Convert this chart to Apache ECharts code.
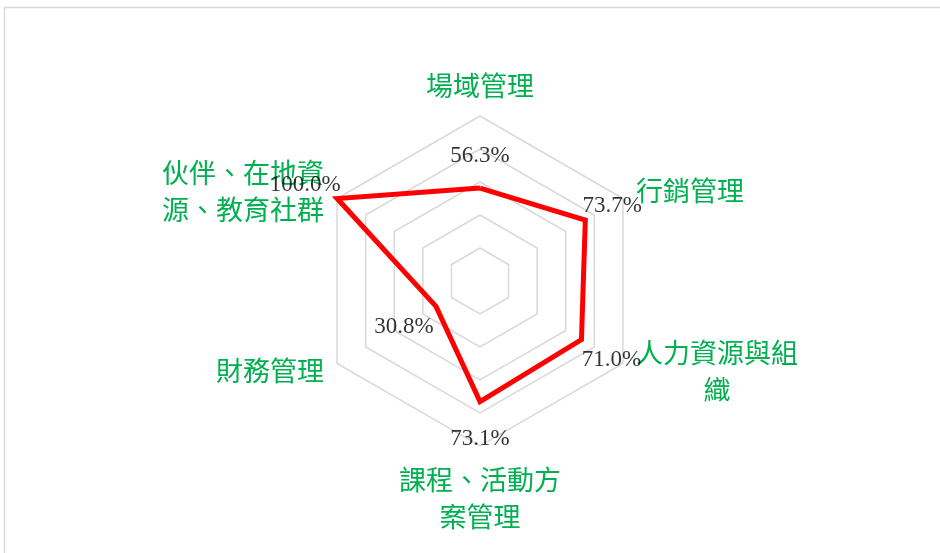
<!DOCTYPE html>
<html>
<head>
<meta charset="utf-8">
<script src="https://cdn.jsdelivr.net/npm/echarts@6/dist/echarts.min.js"></script>
<style>
html,body{margin:0;padding:0;background:#fff;}
#main{width:940px;height:553px;}
</style>
</head>
<body>
<div id="main"></div>
<script>
// Categories in clockwise order starting from the top
const categories = ['場域管理', '行銷管理', '人力資源與組織', '課程、活動方案管理', '財務管理', '伙伴、在地資源、教育社群'];
const categoryLines = [['場域管理'], ['行銷管理'], ['人力資源與組', '織'], ['課程、活動方', '案管理'], ['財務管理'], ['伙伴、在地資', '源、教育社群']];
const values = [56.3, 73.7, 71.0, 73.1, 30.8, 100.0];
const maxValue = 100;

// label offsets (style only), by category index
const labelOffsets = [[0, -32], [27, -14], [30, 20], [0, 37], [-32, 21], [-32, -14]];
const nameGaps = [12, 15, 15, 15, 15, 15];

const CX = 480, CY = 281, R = 165;
const NAME_FONT = 27;

// ECharts radar goes counter-clockwise: reorder
const radarOrder = [0, 5, 4, 3, 2, 1];

const chart = echarts.init(document.getElementById('main'), null, {renderer: 'canvas'});

const option = {
  backgroundColor: '#ffffff',
  animation: false,
  graphic: [{
    type: 'rect',
    shape: {x: 4.5, y: 7.5, width: 1000, height: 600},
    style: {fill: 'none', stroke: '#d9d9d9', lineWidth: 1.5},
    silent: true, z: -10
  }],
  radar: {
    center: [CX, CY],
    radius: R,
    startAngle: 90,
    splitNumber: 5,
    shape: 'polygon',
    axisNameGap: 15,
    indicator: radarOrder.map(i => ({name: categories[i], max: maxValue, min: 0, nameGap: nameGaps[i]})),
    axisName: {
      color: '#00b050',
      fontFamily: 'Noto Sans CJK TC',
      fontSize: NAME_FONT,
      lineHeight: 37,
      formatter: function (name) {
        const i = categories.indexOf(name);
        const lines = categoryLines[i];
        if (i === 2) {
          return lines.map(l => '{w|' + l + '}').join('\n');
        }
        return lines.join('\n');
      },
      rich: {
        w: {width: NAME_FONT * 6, align: 'center', color: '#00b050', fontFamily: 'Noto Sans CJK TC', fontSize: NAME_FONT, lineHeight: 37}
      }
    },
    axisLine: {show: false},
    axisTick: {show: false},
    axisLabel: {show: false},
    splitArea: {show: false},
    splitLine: {lineStyle: {color: '#d9d9d9', width: 1.5}}
  },
  polar: {center: [CX, CY], radius: R},
  angleAxis: {type: 'category', data: categories, startAngle: 120, show: false},
  radiusAxis: {type: 'value', min: 0, max: maxValue, show: false},
  series: [{
    type: 'radar',
    symbol: 'none',
    lineStyle: {color: '#ff0000', width: 5, join: 'miter'},
    itemStyle: {color: '#ff0000'},
    data: [{value: radarOrder.map(i => values[i])}],
    z: 2
  }, {
    type: 'scatter',
    coordinateSystem: 'polar',
    symbolSize: 2,
    itemStyle: {color: 'rgba(0,0,0,0)'},
    z: 5,
    data: categories.map((c, i) => ({
      value: [values[i], c],
      label: {
        show: true,
        position: 'inside',
        offset: labelOffsets[i],
        formatter: values[i].toFixed(1) + '%',
        color: '#000000',
        textBorderWidth: 0,
        fontFamily: 'Liberation Serif',
        fontSize: 23
      }
    }))
  }]
};
chart.setOption(option);
</script>
</body>
</html>
